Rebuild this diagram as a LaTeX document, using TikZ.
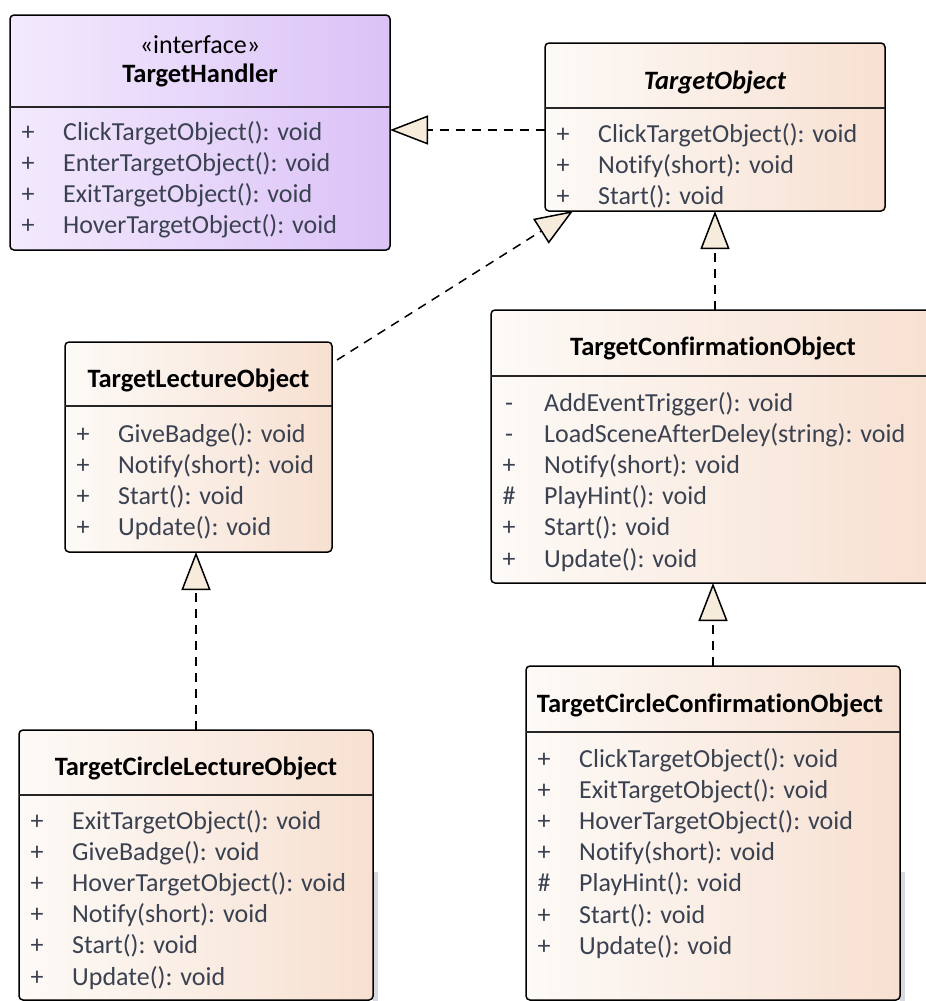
\documentclass[tikz,border=0pt]{standalone}
\usepackage{fontspec}
\setmainfont{Carlito}[Ligatures=NoCommon]
\usetikzlibrary{arrows.meta,calc}

\definecolor{ifaceL}{HTML}{F3EAFD}
\definecolor{ifaceR}{HTML}{DBC2F7}
\definecolor{classL}{HTML}{FDFAF7}
\definecolor{classR}{HTML}{F7E0D1}
\definecolor{membertext}{HTML}{3A4150}
\definecolor{headfill}{HTML}{F7EBDC}
\definecolor{edgestrip}{HTML}{D6D9DF}

\tikzset{
  classbox/.style={draw=black, line width=1.5pt, rounded corners=4pt,
    left color=classL, right color=classR, inner sep=0pt, outer sep=0pt},
  ifacebox/.style={classbox, left color=ifaceL, right color=ifaceR},
  divider/.style={draw=black!85, line width=1.5pt},
  title/.style={font=\bfseries\fontsize{26.5}{30}\selectfont, inner sep=0pt},
  stereo/.style={font=\fontsize{26}{30}\selectfont, inner sep=0pt},
  vis/.style={font=\fontsize{26}{30}\selectfont, text=membertext, inner sep=0pt, anchor=base},
  member/.style={font=\fontsize{26}{30}\selectfont, text=membertext, inner sep=0pt, anchor=base west},
  realize/.style={line width=1.5pt, dash pattern=on 9pt off 7pt,
    -{Triangle[length=38pt, width=29pt, fill=headfill, line width=1.5pt]}},
}

% class box: name, style, x1, y1, x2, y2
\newcommand\umlbox[6]{%
  \node[#2, minimum width={(#5-#3)*1pt}, minimum height={(#6-#4)*1pt}]
    (#1) at ({(#3+#5)/2},{(#4+#6)/2}) {};}
% divider line of a box at a given offset below its top
\newcommand\umldivider[2]{%
  \draw[divider] ([yshift=-#2pt]#1.north west) -- ([yshift=-#2pt]#1.north east);}
% member rows: box name, left x, first row centre y, list of sign/text
\newcommand\umlmembers[4]{%
  \foreach \sgn/\txt [count=\i from 0] in {#4} {
    \node[vis] (#1-v\i) at ({#2+18},{#3+9+31.2*\i}) {\sgn};
    \node[member] (#1-m\i) at ({#2+53},{#3+9+31.2*\i}) {\txt};
  }}

\begin{document}
\begin{tikzpicture}[x=1pt, y=-1pt]
\useasboundingbox (0,0) rectangle (926,1001);
\clip (0,0) rectangle (926,1001);

% thin grey strips beside the two lowest boxes
\fill[edgestrip] (373,872) rectangle (378,1001);
\fill[edgestrip] (900,872) rectangle (905,1001);

% ---- TargetHandler (interface)
\umlbox{handler}{ifacebox}{10}{15}{390}{250}
\node[stereo] (handler-st) at ([yshift=-30pt]handler.north) {«interface»};
\node[title] (handler-t) at ([yshift=-60pt]handler.north) {TargetHandler};
\umldivider{handler}{92}
\umlmembers{handler}{10}{131}{+/ClickTargetObject(): void, +/EnterTargetObject(): void,
  +/ExitTargetObject(): void, +/HoverTargetObject(): void}

% ---- TargetObject (abstract)
\umlbox{tobj}{classbox}{545}{43}{885}{211}
\node[title, font=\bfseries\itshape\fontsize{26.5}{30}\selectfont] (tobj-t) at ([yshift=-39pt]tobj.north) {TargetObject};
\umldivider{tobj}{65}
\umlmembers{tobj}{545}{133}{+/ClickTargetObject(): void, +/Notify(short): void, +/Start(): void}

% ---- TargetLectureObject
\umlbox{tlec}{classbox}{65}{342}{332}{552}
\node[title] (tlec-t) at ([yshift=-38pt]tlec.north) {TargetLectureObject};
\umldivider{tlec}{64}
\umlmembers{tlec}{65}{433}{+/GiveBadge(): void, +/Notify(short): void, +/Start(): void, +/Update(): void}

% ---- TargetConfirmationObject
\umlbox{tconf}{classbox}{491}{310}{940}{583}
\node[title] (tconf-t) at (713,348) {TargetConfirmationObject};
\umldivider{tconf}{66}
\umlmembers{tconf}{491}{402}{-/AddEventTrigger(): void, -/LoadSceneAfterDeley(string): void,
  +/Notify(short): void, \#/PlayHint(): void, +/Start(): void, +/Update(): void}

% ---- TargetCircleLectureObject
\umlbox{tclec}{classbox}{19}{730}{373}{1000}
\node[title] (tclec-t) at ([yshift=-38pt]tclec.north) {TargetCircleLectureObject};
\umldivider{tclec}{65}
\umlmembers{tclec}{19}{820}{+/ExitTargetObject(): void, +/GiveBadge(): void, +/HoverTargetObject(): void,
  +/Notify(short): void, +/Start(): void, +/Update(): void}

% ---- TargetCircleConfirmationObject
\umlbox{tcconf}{classbox}{526}{666}{900}{1000}
\node[title] (tcconf-t) at ([xshift=-3pt, yshift=-39pt]tcconf.north) {TargetCircleConfirmationObject};
\umldivider{tcconf}{66}
\umlmembers{tcconf}{526}{758}{+/ClickTargetObject(): void, +/ExitTargetObject(): void,
  +/HoverTargetObject(): void, +/Notify(short): void, \#/PlayHint(): void, +/Start(): void, +/Update(): void}

% ---- realization / generalization connectors
\draw[realize] ([yshift=-3pt]tobj.west) -- ([yshift=-3pt]handler.east |- tobj.west);
\draw[realize] ([shift={(5pt,-18pt)}]tlec.north east) -- ([xshift=28pt]tobj.south west);
\draw[realize] (tconf.north -| tobj.south) -- (tobj.south);
\draw[realize] (tclec.north) -- (tlec.south -| tclec.north);
\draw[realize] (tcconf.north) -- (tconf.south -| tcconf.north);
\end{tikzpicture}
\end{document}
